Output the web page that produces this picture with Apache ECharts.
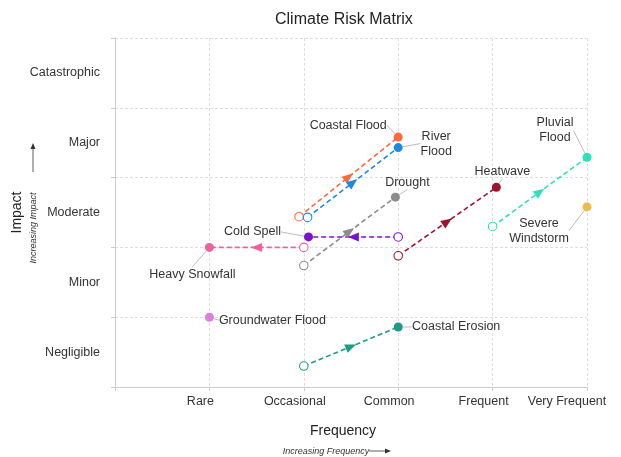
<!DOCTYPE html>
<html><head><meta charset="utf-8">
<script src="https://cdn.jsdelivr.net/npm/echarts@6/dist/echarts.min.js"></script>
<style>html,body{margin:0;padding:0;background:#fff}#c{width:621px;height:457px}</style>
</head><body><div id="c"></div>
<script>
// ---- data ----
const frequencyLabels = ['', 'Rare', 'Occasional', 'Common', 'Frequent', 'Very Frequent'];
const impactLabels = ['Negligible', 'Minor', 'Moderate', 'Major', 'Catastrophic'];
const hazards = ['Coastal Flood', 'River Flood', 'Drought', 'Cold Spell', 'Heavy Snowfall',
  'Groundwater Flood', 'Coastal Erosion', 'Heatwave', 'Pluvial Flood', 'Severe Windstorm'];
const hazardLabels = ['Coastal Flood', 'River\nFlood', 'Drought', 'Cold Spell', 'Heavy Snowfall',
  'Groundwater Flood', 'Coastal Erosion', 'Heatwave', 'Pluvial\nFlood', 'Severe\nWindstorm'];
const startFreq   = [1.95, 2.04, 2.0, 3.0, 2.0, null, 2.0, 3.0, 4.0, null];
const startImpact = [2.44, 2.43, 1.74, 2.15, 2.0, null, 0.3, 1.88, 2.3, null];
const endFreq     = [3.0, 3.0, 2.97, 2.05, 1.0, 1.0, 3.0, 4.04, 5.0, 5.0];
const endImpact   = [3.58, 3.43, 2.72, 2.15, 2.0, 1.0, 0.86, 2.86, 3.29, 2.58];

// ---- styles ----
const colors = ['#ff6a3d', '#1e88e5', '#8c8c8c', '#7a12cf', '#f2609c',
  '#da7fe0', '#1f9a86', '#a0132e', '#30e0b8', '#e9bc4c'];
const labelOffsets = [[-50, -12], [38, -4], [12, -15], [-56, -5], [-17, 27],
  [63, 3], [58, 0], [6, -16], [-32, -27], [-48, 24]];
const FONT = '"Liberation Sans", Arial, sans-serif';
const FS = 12.5;

const series = [];
hazards.forEach((h, i) => {
  const data = [];
  if (startFreq[i] != null) {
    data.push({ value: [startFreq[i], startImpact[i]], symbol: 'circle', symbolSize: 8.5,
      itemStyle: { color: '#fff', borderColor: colors[i], borderWidth: 1.1 } });
  }
  data.push({ value: [endFreq[i], endImpact[i]], symbol: 'circle', symbolSize: 9,
    itemStyle: { color: colors[i], borderWidth: 0 },
    label: { show: true, formatter: hazardLabels[i] } });
  series.push({
    type: 'line', name: h, data: data, xAxisIndex: 0, yAxisIndex: 0,
    showSymbol: true, silent: true, animation: false, z: 3,
    lineStyle: { color: colors[i], width: 1.6, type: [5, 3] },
    label: { show: false, position: 'inside', fontSize: FS, color: '#333', lineHeight: 15, fontFamily: FONT },
    labelLine: { show: true, lineStyle: { color: '#aaa', width: 0.8 } },
    labelLayout: { dx: labelOffsets[i][0], dy: labelOffsets[i][1] }
  });
});

const arrowData = [];
hazards.forEach((h, i) => {
  if (startFreq[i] != null) arrowData.push([startFreq[i], startImpact[i], endFreq[i], endImpact[i], i]);
});
series.push({
  type: 'custom', xAxisIndex: 0, yAxisIndex: 0, z: 5, silent: true, animation: false,
  data: arrowData,
  renderItem: function (params, api) {
    const p0 = api.coord([api.value(0), api.value(1)]);
    const p1 = api.coord([api.value(2), api.value(3)]);
    const mx = (p0[0] + p1[0]) / 2, my = (p0[1] + p1[1]) / 2;
    const a = Math.atan2(p1[1] - p0[1], p1[0] - p0[0]);
    const ux = Math.cos(a), uy = Math.sin(a), L = 5.5, W = 4.5;
    const tip = [mx + ux * L, my + uy * L];
    const b = [mx - ux * L, my - uy * L];
    return { type: 'polygon',
      shape: { points: [tip, [b[0] - uy * W, b[1] + ux * W], [b[0] + uy * W, b[1] - ux * W]] },
      style: { fill: colors[api.value(4)] } };
  }
});

const chart = echarts.init(document.getElementById('c'), null, { renderer: 'canvas' });
chart.setOption({
  animation: false,
  textStyle: { fontFamily: FONT },
  title: { text: 'Climate Risk Matrix', left: 275, top: 12, padding: 0,
    textStyle: { fontSize: 16, fontWeight: 'normal', color: '#222', fontFamily: FONT } },
  grid: { left: 115, right: 34, top: 38, bottom: 70, containLabel: false, outerBoundsMode: 'none' },
  xAxis: {
    type: 'value', min: 0, max: 5, interval: 1,
    axisLine: { show: true, lineStyle: { color: '#ccc' } },
    axisTick: { show: true, length: 4, lineStyle: { color: '#ccc' } },
    splitLine: { show: true, lineStyle: { color: '#ddd', type: [3, 2] } },
    axisLabel: {
      color: '#333', fontSize: FS, margin: 8,
      formatter: v => v === 5 ? '{vf|' + frequencyLabels[v] + '}' : '{n|' + (frequencyLabels[v] || '') + '}',
      rich: { n: { padding: [0, 18, 0, 0], fontSize: FS, color: '#333' },
              vf: { padding: [0, 40, 0, 0], fontSize: FS, color: '#333' } }
    },
    name: 'Frequency', nameLocation: 'middle', nameGap: 37, nameMoveOverlap: false,
    nameTextStyle: { fontSize: 14, color: '#222', padding: [0, 16, 0, 0] }
  },
  yAxis: [{
    type: 'value', min: 0, max: 5, interval: 1,
    axisLine: { show: true, lineStyle: { color: '#ccc' } },
    axisTick: { show: true, length: 4, lineStyle: { color: '#ccc' } },
    splitLine: { show: true, lineStyle: { color: '#ddd', type: [3, 2] } },
    axisLabel: { show: false }
  }, {
    type: 'category', data: impactLabels, boundaryGap: true, position: 'left',
    axisLine: { show: false }, axisTick: { show: false }, splitLine: { show: false },
    axisLabel: { color: '#333', fontSize: FS, margin: 15 },
    name: 'Impact', nameLocation: 'middle', nameGap: 91, nameMoveOverlap: false,
    nameTextStyle: { fontSize: 14, color: '#222' }
  }],
  graphic: [
    { type: 'text', x: 326, y: 451, style: { text: 'Increasing Frequency', font: 'italic 9px ' + FONT, fill: '#333', textAlign: 'center', textVerticalAlign: 'middle' } },
    { type: 'line', shape: { x1: 369, y1: 451, x2: 386, y2: 451 }, style: { stroke: '#333', lineWidth: 0.8 } },
    { type: 'polygon', shape: { points: [[391, 451], [385, 448.5], [385, 453.5]] }, style: { fill: '#333' } },
    { type: 'text', x: 33, y: 228, rotation: Math.PI / 2, style: { text: 'Increasing Impact', font: 'italic 9px ' + FONT, fill: '#333', textAlign: 'center', textVerticalAlign: 'middle' } },
    { type: 'line', shape: { x1: 33, y1: 172, x2: 33, y2: 148 }, style: { stroke: '#333', lineWidth: 0.8 } },
    { type: 'polygon', shape: { points: [[33, 143], [30.5, 149], [35.5, 149]] }, style: { fill: '#333' } }
  ],
  series: series
});
</script></body></html>
